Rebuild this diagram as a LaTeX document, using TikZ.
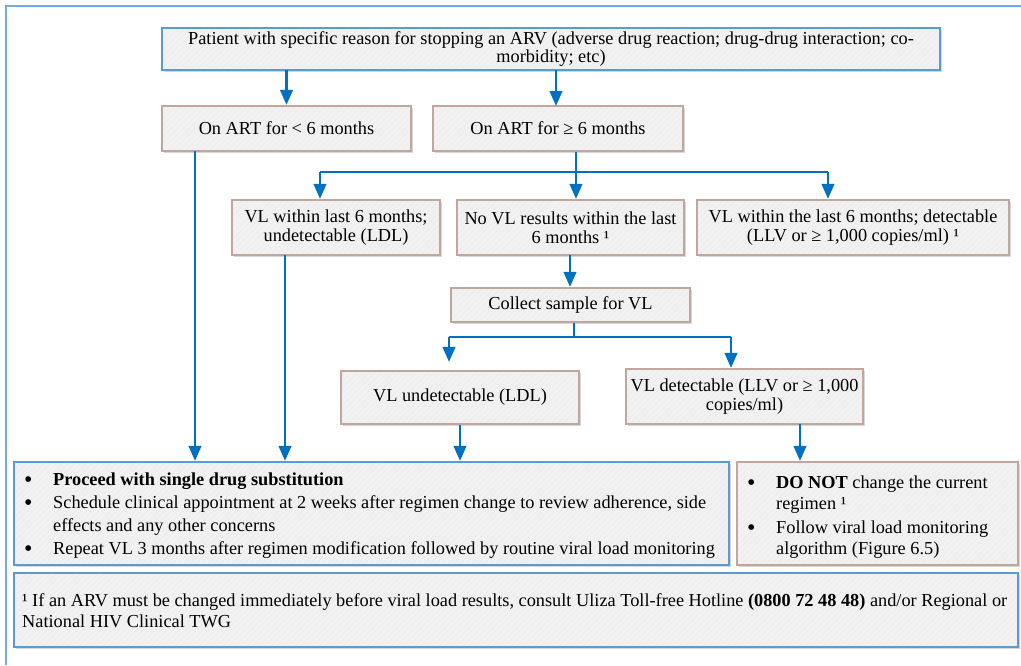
\documentclass[tikz,border=0pt]{standalone}
\usepackage{fontspec}
\setmainfont{Liberation Serif}
\usetikzlibrary{arrows.meta,shadows,patterns.meta}
\definecolor{frameblue}{HTML}{74AADC}
\definecolor{boxblue}{HTML}{5B9BD5}
\definecolor{boxbrown}{HTML}{C0A69C}
\definecolor{arrowblue}{HTML}{0070C0}
\definecolor{boxfill}{HTML}{F1F1F1}
\definecolor{hatch}{HTML}{E8E8E8}
\begin{document}
\begin{tikzpicture}[x=1pt,y=-1pt,
  box/.style={rectangle, line width=2.2pt,
    drop shadow={shadow xshift=1.6pt, shadow yshift=-1.6pt, fill=black!35, opacity=0.45},
    preaction={fill=boxfill},
    pattern={Lines[angle=45,distance=4pt,line width=0.5pt]}, pattern color=hatch,
    inner sep=0pt, align=center, font=\fontsize{18.3}{19.5}\selectfont},
  bluebox/.style={box, draw=boxblue},
  brownbox/.style={box, draw=boxbrown},
  link/.style={draw=arrowblue, line width=2.6pt},
  flow/.style={link, -{Triangle[length=15pt,width=12.5pt]}},
  txt/.style={anchor=base west, inner sep=0pt, font=\fontsize{18.3}{19.5}\selectfont},
  dot/.style={txt, font=\fontsize{24}{24}\selectfont},
]
\useasboundingbox (0,0) rectangle (1021,665);
% outer frame (runs off the page to the right and bottom)
\draw[frameblue, line width=2pt] (1021,6) -- (6,6) -- (6,665);

% boxes
\node[bluebox, minimum width=778pt, minimum height=42pt] (top) at (551,49)
  {\raisebox{-1.5pt}{Patient with specific reason for stopping an ARV (adverse drug reaction; drug-drug interaction; co-}\\morbidity; etc)};
\node[brownbox, minimum width=249pt, minimum height=45pt] (lt6) at (286.5,128.5) {On ART for < 6 months};
\node[brownbox, minimum width=250pt, minimum height=45pt] (ge6) at (558,128.5) {On ART for ≥ 6 months};
\node[brownbox, minimum width=208pt, minimum height=55pt] (vlund) at (336,227.5) {VL within last 6 months;\\undetectable (LDL)};
\node[brownbox, minimum width=227pt, minimum height=55pt] (novl) at (570.5,227.5) {No VL results within the last\\6 months ¹};
\node[brownbox, minimum width=312pt, minimum height=55pt] (vldet) at (853,227.5) {VL within the last 6 months; detectable\\(LLV or ≥ 1,000 copies/ml) ¹};
\node[brownbox, minimum width=239pt, minimum height=34pt] (collect) at (570.5,305) {Collect sample for VL};
\node[brownbox, minimum width=238pt, minimum height=53pt] (und2) at (460,397.5) {VL undetectable (LDL)};
\node[brownbox, minimum width=237pt, minimum height=55pt] (det2) at (744.5,396.5) {VL detectable (LLV or ≥ 1,000\\copies/ml)};
\node[bluebox, minimum width=715pt, minimum height=103pt] (action) at (371.5,513.5) {};
\node[brownbox, minimum width=281pt, minimum height=103pt] (donot) at (877.5,513.5) {};
\node[bluebox, minimum width=1004pt, minimum height=74pt] (note) at (516,610) {};

% text of the action box
\node[dot] (a1b) at (24,487) {•};
\node[txt] (a1) at (53,485) {\bfseries Proceed with single drug substitution};
\node[dot] (a2b) at (24,510) {•};
\node[txt] (a2) at (53,508) {Schedule clinical appointment at 2 weeks after regimen change to review adherence, side};
\node[txt] (a2c) at (53,531) {effects and any other concerns};
\node[dot] (a3b) at (24,556) {•};
\node[txt] (a3) at (53,554) {Repeat VL 3 months after regimen modification followed by routine viral load monitoring};

% text of the do-not box
\node[dot] (d1b) at (747,490) {•};
\node[txt] (d1) at (776,488) {\bfseries DO NOT\mdseries{} change the current};
\node[txt] (d1c) at (776,509) {regimen ¹};
\node[dot] (d2b) at (747,535) {•};
\node[txt] (d2) at (776,533) {Follow viral load monitoring};
\node[txt] (d2c) at (776,554) {algorithm (Figure 6.5)};

% footnote
\node[txt] (n1) at (22,606) {¹ If an ARV must be changed immediately before viral load results, consult Uliza Toll-free Hotline \textbf{(0800 72 48 48)} and/or Regional or};
\node[txt] (n2) at (22,627) {National HIV Clinical TWG};

% connectors
\draw[flow] (top.south -| lt6.north) -- (lt6.north);
\coordinate (t2) at (556,106);
\draw[flow] (top.south -| t2) -- (t2);

\coordinate (s1) at (576,172);
\coordinate (s1l) at (320,172);
\coordinate (s1r) at (828,172);
\draw[link] (ge6.south -| s1) -- (s1);
\draw[link] (s1l) -- (s1r);
\draw[flow] (s1l) -- (s1l |- vlund.north);
\draw[flow] (s1) -- (s1 |- novl.north);
\draw[flow] (s1r) -- (s1r |- vldet.north);

\coordinate (n0) at (570,255);
\draw[flow] (n0) -- (n0 |- collect.north);

\coordinate (s2) at (574,337);
\coordinate (s2l) at (449,337);
\coordinate (s2r) at (731,337);
\draw[link] (collect.south -| s2) -- (s2);
\draw[link] (s2l) -- (s2r);
\draw[flow, shorten >=8pt] (s2l) -- (s2l |- und2.north);
\draw[flow] (s2r) -- (s2r |- det2.north);

\coordinate (l1) at (195,151);
\coordinate (l2) at (285,255);
\draw[flow] (l1) -- (l1 |- action.north);
\draw[flow] (l2) -- (l2 |- action.north);
\draw[flow] (und2.south) -- (und2.south |- action.north);
\coordinate (r1) at (800,424);
\draw[flow] (r1) -- (r1 |- donot.north);
\end{tikzpicture}
\end{document}
